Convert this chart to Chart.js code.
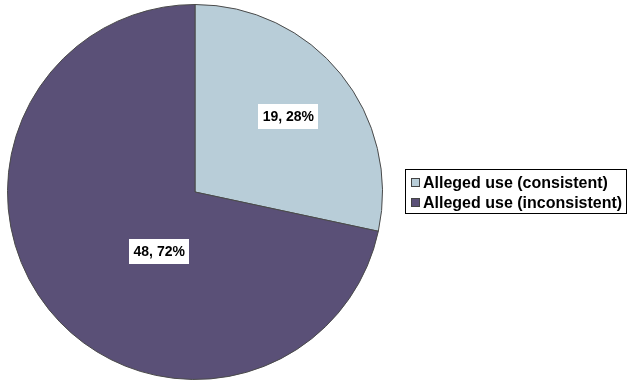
<!DOCTYPE html>
<html>
<head>
<meta charset="utf-8">
<script src="https://cdn.jsdelivr.net/npm/chart.js@4/dist/chart.umd.min.js"></script>
<style>
  html, body { margin: 0; padding: 0; background: #fff; }
  #wrap { width: 628px; height: 382px; position: relative; }
</style>
</head>
<body>
<div id="wrap"><canvas id="pieChart" width="628" height="382"></canvas></div>
<script>
const categories = ['Alleged use (consistent)', 'Alleged use (inconsistent)'];
const counts = [19, 48];
const percents = [28, 72];
const sliceColors = ['#b8cdd8', '#5a5077'];

// where the value boxes sit: fraction of radius, and angle shift in degrees
const labelSpots = [{frac: 0.64, shift: 0}, {frac: 0.37, shift: -20}];

const valueBoxes = {
  id: 'valueBoxes',
  afterDatasetsDraw(chart) {
    const ctx = chart.ctx;
    const meta = chart.getDatasetMeta(0);
    ctx.save();
    ctx.font = 'bold 14px "Liberation Sans", Arial, sans-serif';
    ctx.textAlign = 'center';
    ctx.textBaseline = 'middle';
    meta.data.forEach((arc, i) => {
      const mid = (arc.startAngle + arc.endAngle) / 2 + labelSpots[i].shift * Math.PI / 180;
      const r = arc.outerRadius * labelSpots[i].frac;
      const x = arc.x + Math.cos(mid) * r;
      const y = arc.y + Math.sin(mid) * r;
      const txt = counts[i] + ', ' + percents[i] + '%';
      const w = ctx.measureText(txt).width + 9;
      const h = 25;
      ctx.fillStyle = '#ffffff';
      ctx.fillRect(Math.round(x - w / 2), Math.round(y - h / 2), Math.round(w), h);
      ctx.fillStyle = '#000000';
      ctx.fillText(txt, x, y + 1);
    });
    ctx.restore();
  }
};

const boxLegend = {
  id: 'boxLegend',
  afterDraw(chart) {
    const ctx = chart.ctx;
    ctx.save();
    ctx.strokeStyle = '#000000';
    ctx.lineWidth = 1;
    ctx.strokeRect(405.5, 169.5, 221, 44);
    ctx.font = 'bold 16px "Liberation Sans", Arial, sans-serif';
    ctx.textBaseline = 'middle';
    categories.forEach((c, i) => {
      const y = 182.5 + i * 20;
      ctx.fillStyle = sliceColors[i];
      ctx.fillRect(411, y - 4.5, 9, 9);
      ctx.strokeStyle = '#444';
      ctx.strokeRect(411.5, y - 4, 8, 8);
      ctx.fillStyle = '#000';
      ctx.fillText(c, 423, y + 1);
    });
    ctx.restore();
  }
};

new Chart(document.getElementById('pieChart'), {
  type: 'pie',
  data: {
    labels: categories,
    datasets: [{
      data: counts,
      backgroundColor: sliceColors,
      borderColor: '#4a4a4a',
      borderWidth: 1
    }]
  },
  options: {
    responsive: false,
    animation: false,
    layout: { padding: { left: 7, right: 245, top: 4, bottom: 2 } },
    plugins: {
      legend: { display: false },
      tooltip: { enabled: false }
    }
  },
  plugins: [valueBoxes, boxLegend]
});
</script>
</body>
</html>
